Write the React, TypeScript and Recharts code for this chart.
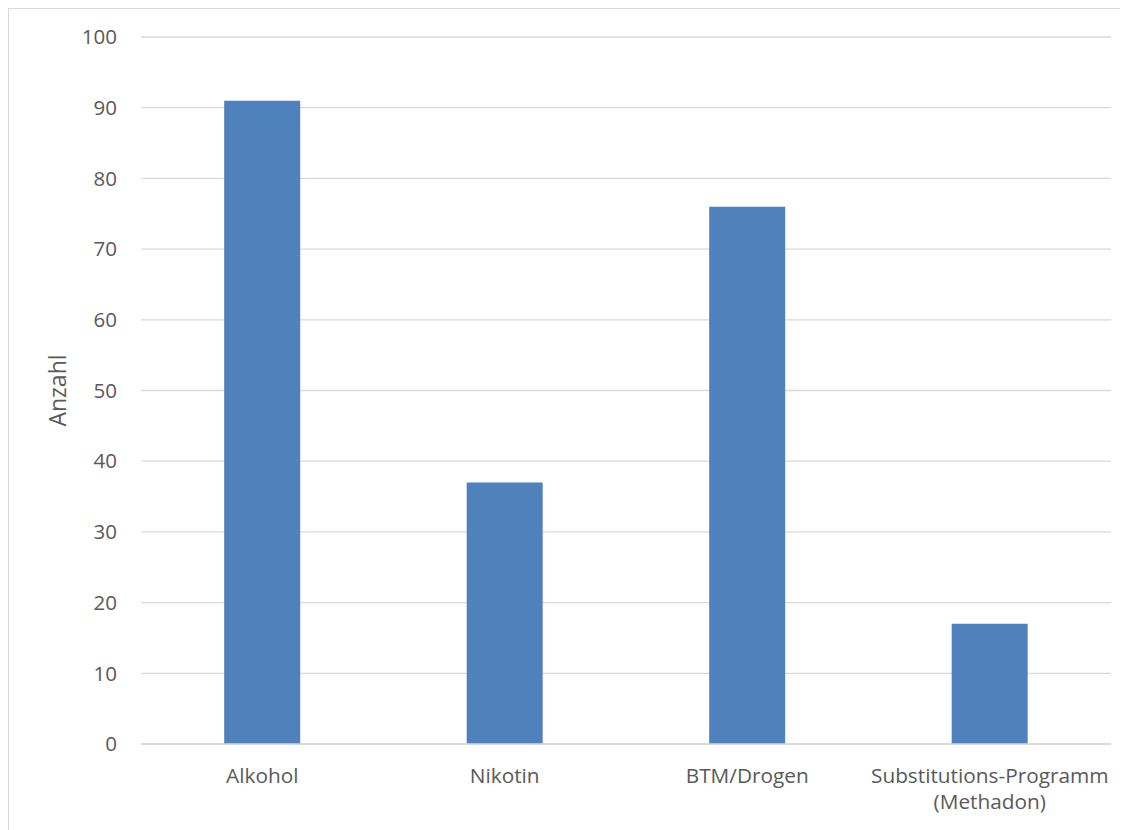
import React from 'react';
import { BarChart, Bar, XAxis, YAxis, CartesianGrid } from 'recharts';

const categories = ['Alkohol', 'Nikotin', 'BTM/Drogen', 'Substitutions-Programm (Methadon)'];
const anzahl = [91, 37, 76, 17];
const yTicks = [0, 10, 20, 30, 40, 50, 60, 70, 80, 90, 100];

const data = categories.map((c, i) => ({ name: c, value: anzahl[i] }));

const FONT = '"Open Sans", "Liberation Sans", Arial, sans-serif';
const TEXT = '#595959';

const CatTick = (props: any) => {
  const { x, y, payload } = props;
  const lines = String(payload.value).split(' ');
  return (
    <g>
      {lines.map((l: string, i: number) => (
        <text key={i} x={x} y={y + 31 + i * 26} textAnchor="middle" fill={TEXT} fontSize={20.8} fontFamily={FONT}>
          {l}
        </text>
      ))}
    </g>
  );
};

export default function App() {
  return (
    <div style={{ borderLeft: '1px solid #d9d9d9', borderTop: '1px solid #d9d9d9', width: 1120, height: 821, background: '#fff' }}>
      <BarChart
        width={1119}
        height={821}
        data={data}
        margin={{ top: 28, right: 17, bottom: 26, left: 0 }}
        barCategoryGap="34.3%"
      >
        <CartesianGrid horizontal vertical={false} stroke="#d9d9d9" strokeWidth={1.3} />
        <XAxis
          dataKey="name"
          axisLine={{ stroke: '#d9d9d9', strokeWidth: 1.3 }}
          tickLine={false}
          height={60}
          interval={0}
          tick={<CatTick />}
        />
        <YAxis
          width={132}
          domain={[0, 100]}
          ticks={yTicks}
          axisLine={false}
          tickLine={false}
          tickSize={0}
          tickMargin={24}
          tick={{ fill: TEXT, fontSize: 20.5, fontFamily: FONT }}
          label={{ value: 'Anzahl', angle: -90, position: 'insideLeft', offset: 49, fill: TEXT, fontSize: 23, fontFamily: FONT, style: { textAnchor: 'middle' } }}
        />
        <Bar dataKey="value" fill="#4F81BD" isAnimationActive={false} />
      </BarChart>
    </div>
  );
}
